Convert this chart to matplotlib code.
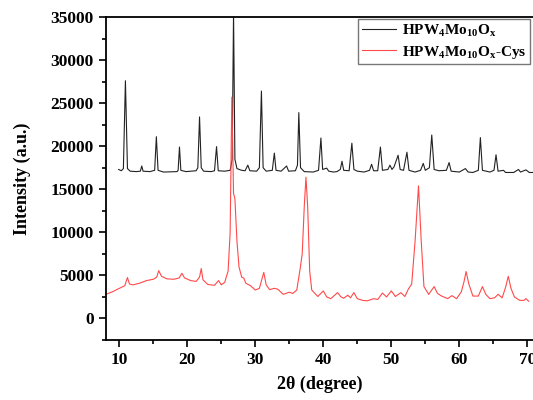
import matplotlib
matplotlib.use("Agg")
import matplotlib.pyplot as plt
from matplotlib.ticker import MultipleLocator

plt.rcParams['font.family'] = ['Liberation Serif', 'DejaVu Serif']
plt.rcParams['font.weight'] = 'bold'
plt.rcParams['mathtext.fontset'] = 'custom'
plt.rcParams['mathtext.rm'] = 'Liberation Serif:bold'
plt.rcParams['mathtext.it'] = 'Liberation Serif:bold'
plt.rcParams['mathtext.bf'] = 'Liberation Serif:bold'

# HPW4Mo10Ox
x_hpw = [9.9, 10.3, 10.6, 10.9, 11.2, 11.6, 12.5, 13.1, 13.3, 13.5, 14.5, 15.2, 15.45, 15.7,
         16.5, 18.5, 18.65, 18.85, 19.05, 19.8, 21.3, 21.55, 21.8, 22.05, 22.4, 23.5, 24.0,
         24.3, 24.55, 25.5, 26.3, 26.6, 26.8, 27.0, 27.3, 28.0, 28.5, 28.9, 29.2, 30.2, 30.6,
         30.9, 31.15, 31.6, 32.5, 32.8, 33.05, 33.8, 34.6, 34.9, 35.9, 36.2, 36.4, 36.65, 37.2,
         38.5, 39.3, 39.65, 39.9, 40.5, 40.8, 41.5, 42.0, 42.5, 42.75, 43.0, 43.8, 44.2, 44.5,
         45.0, 46.0, 46.8, 47.1, 47.4, 48.0, 48.4, 48.7, 49.5, 49.8, 50.1, 50.4, 51.0, 51.3,
         51.8, 52.3, 52.6, 53.5, 54.3, 54.7, 55.0, 55.6, 55.95, 56.3, 57.0, 58.1, 58.5, 58.8,
         60.0, 60.9, 61.3, 62.0, 62.8, 63.1, 63.4, 64.5, 65.1, 65.4, 65.7, 66.5, 66.8, 68.0,
         68.7, 69.0, 69.8, 70.3, 71.0]
y_hpw = [17300, 17150, 17400, 27600, 17400, 17100, 17050, 17100, 17700, 17100, 17050, 17200,
         21100, 17200, 17000, 17050, 17200, 19900, 17200, 17050, 17150, 17500, 23400, 17500,
         17100, 17050, 17150, 19950, 17150, 17100, 17200, 18500, 35500, 18500, 17400, 17200,
         17150, 17800, 17150, 17100, 17500, 26400, 17500, 17100, 17200, 19200, 17200, 17100,
         17700, 17100, 17150, 17800, 23900, 17500, 17050, 17000, 17200, 20950, 17300, 17450,
         17100, 17000, 17050, 17300, 18250, 17200, 17150, 20350, 17300, 17100, 17000, 17200,
         17900, 17150, 17150, 19900, 17200, 17300, 17800, 17300, 17600, 18950, 17300, 17200,
         19300, 17200, 17000, 17200, 18000, 17200, 17500, 21300, 17300, 17150, 17200, 18100,
         17100, 17000, 17400, 17000, 16950, 17200, 21000, 17200, 17000, 17200, 19000, 17100,
         17200, 16950, 16950, 17300, 17000, 17250, 16950, 16950]

# HPW4Mo10Ox-Cys
x_cys = [8.0, 9.0, 10.0, 10.8, 11.2, 11.5, 12.0, 13.0, 14.0, 15.0, 15.5, 15.8, 16.2, 17.0,
         18.0, 18.8, 19.2, 19.6, 20.5, 21.3, 21.8, 22.05, 22.3, 23.0, 24.0, 24.6, 25.0, 25.5,
         26.0, 26.3, 26.55, 26.8, 27.0, 27.3, 27.6, 28.0, 28.3, 28.6, 29.3, 30.0, 30.6, 31.25,
         31.6, 32.1, 32.8, 33.3, 34.1, 35.0, 35.5, 36.1, 36.6, 36.9, 37.2, 37.45, 37.7, 38.0,
         38.3, 39.2, 40.0, 40.5, 41.1, 42.1, 42.6, 43.0, 43.6, 44.0, 44.5, 45.0, 45.8, 46.5,
         47.4, 48.0, 48.7, 49.3, 50.0, 50.6, 51.4, 52.0, 52.5, 53.0, 53.5, 54.0, 54.4, 54.8,
         55.5, 56.3, 56.8, 57.4, 58.3, 58.9, 59.6, 60.3, 60.7, 61.0, 61.4, 62.0, 62.8, 63.4,
         63.9, 64.5, 65.2, 65.7, 66.3, 66.8, 67.2, 67.6, 68.1, 68.9, 69.5, 69.8, 70.2]
y_cys = [2800, 3100, 3500, 3800, 4750, 4000, 3900, 4100, 4400, 4550, 4800, 5550, 4900, 4600,
         4550, 4700, 5250, 4700, 4400, 4300, 4800, 5800, 4500, 3950, 3850, 4400, 3900, 4200,
         5500, 10000, 25700, 14500, 13900, 9000, 6000, 4800, 4700, 4100, 3800, 3300, 3500, 5350,
         3900, 3350, 3500, 3400, 2800, 3050, 2900, 3300, 5800, 7500, 13000, 16400, 13000, 5500,
         3300, 2550, 3200, 2500, 2300, 3000, 2500, 2350, 2700, 2400, 3000, 2300, 2100, 2050,
         2300, 2200, 2950, 2500, 3200, 2550, 3000, 2550, 3400, 4000, 9000, 15400, 9000, 3700,
         2800, 3700, 2900, 2600, 2300, 2650, 2300, 3100, 4300, 5450, 4000, 2600, 2600, 3700,
         2800, 2300, 2400, 2800, 2400, 3600, 4900, 3500, 2500, 2100, 2100, 2300, 2000]

labels = ['HPW$_4$Mo$_{10}$O$_x$', 'HPW$_4$Mo$_{10}$O$_x$-Cys']

fig = plt.figure(figsize=(5.33, 4.0), dpi=100)
ax = fig.add_axes([105.7 / 533, 60 / 400, 428.4 / 533, 323 / 400])

ax.plot(x_hpw, y_hpw, color='#222222', lw=0.8, label=labels[0])
ax.plot(x_cys, y_cys, color='#ff4a4a', lw=0.8, label=labels[1])

ax.set_xlim(8, 71)
ax.set_ylim(-2500, 35000)
ax.xaxis.set_major_locator(MultipleLocator(10))
ax.xaxis.set_minor_locator(MultipleLocator(5))
ax.yaxis.set_major_locator(MultipleLocator(5000))
ax.yaxis.set_minor_locator(MultipleLocator(2500))
ax.tick_params(which='both', direction='out', width=1.2, labelsize=12.5)
ax.tick_params(which='major', length=5)
ax.tick_params(which='minor', length=3)
ax.tick_params(top=False, right=False)
for s in ax.spines.values():
    s.set_linewidth(1.3)

ax.set_xlabel('2θ (degree)', fontsize=13, fontweight='bold', labelpad=6)
ax.set_ylabel('Intensity (a.u.)', fontsize=13, fontweight='bold', labelpad=14)

leg = ax.legend(loc='upper right', bbox_to_anchor=(530 / 533, 1 - 19 / 400),
                bbox_transform=fig.transFigure, borderaxespad=0, fancybox=False,
                edgecolor='#555555', fontsize=11, handlelength=2.2, handletextpad=0.4,
                borderpad=0.25, labelspacing=0.3)
leg.get_frame().set_linewidth(1.0)

fig.savefig('out.png', dpi=100)
